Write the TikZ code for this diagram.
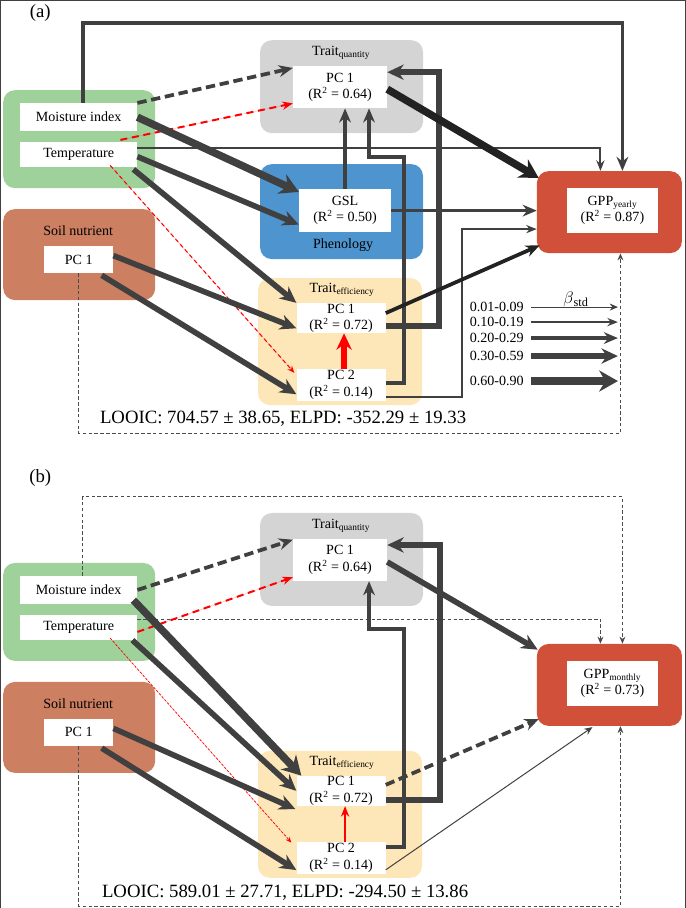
\documentclass[tikz,border=0pt]{standalone}
\usepackage{fontspec}
\setmainfont{Liberation Serif}
\usepackage{tikz}
\usetikzlibrary{arrows.meta,calc}

\definecolor{climgreen}{HTML}{9FD29B}
\definecolor{soilbrown}{HTML}{CD7F62}
\definecolor{qgray}{HTML}{D4D4D4}
\definecolor{phblue}{HTML}{4E95D0}
\definecolor{effyellow}{HTML}{FDE6B8}
\definecolor{gppred}{HTML}{D0503A}
\definecolor{darkline}{HTML}{404040}
\definecolor{blackline}{HTML}{222222}

\begin{document}
\begin{tikzpicture}[
        x=0.03cm, y=-0.03cm,
        every node/.style={font=\fontsize{12}{14}\selectfont, inner sep=0pt},
        sz/.style 2 args={minimum width=#1*0.03cm, minimum height=#2*0.03cm},
        grp/.style={rounded corners=10pt},
        wbox/.style={fill=white, align=center},
        big/.style={font=\fontsize{16}{18}\selectfont},
        every path/.style={draw=darkline},
        w1/.style={line width=0.85pt, -{Stealth[length=7pt, width=6pt]}},
        w2/.style={line width=1.7pt, -{Stealth[length=9pt, width=7pt]}},
        w3/.style={line width=3.2pt, -{Stealth[length=12pt, width=10pt]}},
        w4/.style={line width=4.8pt, -{Stealth[length=14pt, width=13pt]}},
        w5/.style={line width=6.4pt, -{Stealth[length=16pt, width=18pt]}},
        thickdash/.style={dash pattern=on 8pt off 4pt},
        reddash/.style={draw=red, fill=red, dash pattern=on 6pt off 4pt},
        redthin/.style={draw=red, fill=red, line width=0.9pt, dash pattern=on 3.5pt off 2.5pt},
        loopd/.style={line width=0.7pt, draw=black!70, dash pattern=on 3pt off 2pt,
            -{Stealth[length=6pt, width=5pt]}},
    ]
    \useasboundingbox (0,0) rectangle (685,908);

    %% (a) yearly
    \node[big] (labA) at (40,13) {(a)};

    \node[grp, fill=climgreen, sz={152}{98}] (climA) at (79,139) {};
    \node[grp, fill=soilbrown, sz={152}{91}] (soilA) at (79,254.5) {};
    \node[grp, fill=qgray, sz={163}{93}] (tqA) at (341.5,86.5) {};
    \node[grp, fill=phblue, sz={163}{95}] (phA) at (341.5,211.5) {};
    \node[grp, fill=effyellow, sz={164}{127}] (teA) at (340,341.5) {};
    \node[grp, fill=gppred, sz={145}{82}] (gppA) at (609.5,212) {};

    \node (soilT) at (78,231) {Soil nutrient};
    \node (tqT) at (341,53) {Trait\textsubscript{quantity}};
    \node (phT) at (343,245) {Phenology};
    \node (teT) at (342,290) {Trait\textsubscript{efficiency}};

    \node[wbox, sz={117}{28}] (mi) at (78.5,117) {Moisture index};
    \node[wbox, sz={117}{25}] (tp) at (78.5,154.5) {Temperature};
    \node[wbox, sz={69}{27}] (sp) at (78.5,259.5) {PC 1};
    \node[wbox, sz={94}{42}] (tq) at (340,87) {PC 1\\(R\textsuperscript{2} = 0.64)};
    \node[wbox, sz={92}{43}] (gsl) at (345,210.5) {GSL\\(R\textsuperscript{2} = 0.50)};
    \node[wbox, sz={89}{30}] (e1) at (341,318) {PC 1\\(R\textsuperscript{2} = 0.72)};
    \node[wbox, sz={89}{32}] (e2) at (341,385) {PC 2\\(R\textsuperscript{2} = 0.14)};
    \node[wbox, sz={91}{45}] (gpp) at (612.5,210.5) {GPP\textsubscript{yearly}\\(R\textsuperscript{2} = 0.87)};

    \draw[w3] ($(mi.north)+(4,0)$) -- ++(0,-80) -| ($(gppA.north)+(13,0)$);
    \draw[w2] ($(tp.east)+(0,-7)$) -| ($(gppA.north)+(-9,0)$);
    \draw[w3, thickdash] (mi.north east) -- ($(tq.north west)+(0,2)$);
    \draw[w2, reddash] ($(tp.north east)+(-17,-2)$) -- ($(tq.south west)+(0,-5)$);
    \draw[w5] (mi.east) -- ($(gsl.north west)+(0,3)$);
    \draw[w4] ($(tp.east)+(0,2)$) -- ($(gsl.west)+(0,14)$);
    \draw[w4] ($(tp.south east)+(-4,2)$) -- (e1.north west);
    \draw[redthin, -{Stealth[length=6pt, width=5pt]}] ($(tp.south)+(31.5,-2)$) -- ($(e2.north west)+(-2,4)$);
    \draw[w3] (gsl.north) -- (gsl.north |- tq.south);
    \draw[w3] ($(e2.east)+(0,-2)$) -- ++(18,0) -- ++(0,-226) -| ($(tq.south)+(29,0)$);
    \draw[w4] ($(e1.east)+(0,8)$) -- ++(53,0) |- ($(tq.east)+(0,-15)$);
    \draw[w5, draw=blackline, fill=blackline] ($(tq.east)+(0,2)$) -- ($(gppA.north west)+(2,7)$);
    \draw[w3] (gsl.east) -- (gsl.east -| gppA.west);
    \draw[w2] ($(e2.east)+(0,12)$) -- ++(76,0) |- ($(gppA.west)+(0,17)$);
    \draw[w3, draw=blackline, fill=blackline] ($(e1.east)+(0,-5)$) -- ($(gppA.south west)+(3,-8)$);
    \draw[w4, draw=red, fill=red] ($(e2.north)+(3,0)$) -- ($(e1.south)+(3,0)$);
    \draw[w4] ($(sp.east)+(0,-4)$) -- ($(e1.south west)+(0,-5)$);
    \draw[w4] ($(sp.south)+(23,2)$) -- ($(e2.south west)+(0,-7)$);
    \draw[loopd] (sp.south) -- ++(0,160) -| ($(gppA.south)+(11,0)$);

    \node[big] (fitA) at (283,419) {LOOIC: 704.57 ± 38.65, ELPD: -352.29 ± 19.33};

    % legend
    \node[anchor=east] (l1) at (524,307) {0.01-0.09};
    \node[anchor=east] (l2) at (524,322) {0.10-0.19};
    \node[anchor=east] (l3) at (524,338) {0.20-0.29};
    \node[anchor=east] (l4) at (524,356) {0.30-0.59};
    \node[anchor=east] (l5) at (524,381) {0.60-0.90};
    \coordinate (r1) at (618,307);
    \coordinate (r2) at (618,322);
    \coordinate (r3) at (618,338);
    \coordinate (r4) at (618,356);
    \coordinate (r5) at (618,381);
    \draw[w1, shorten <=6pt] (l1.east) -- (r1);
    \draw[w2, shorten <=6pt] (l2.east) -- (r2);
    \draw[w3, shorten <=6pt] (l3.east) -- (r3);
    \draw[w4, shorten <=6pt] (l4.east) -- (r4);
    \draw[w5, shorten <=6pt] (l5.east) -- (r5);
    \node[font=\fontsize{15}{16}\selectfont] (beta) at (576,299) {$\beta$\textsubscript{std}};

    %% (b) monthly
    \node[big] (labB) at (40,478) {(b)};
    \begin{scope}[yshift=-14.19cm]
    \node[grp, fill=climgreen, sz={152}{98}] (climB) at (79,139) {};
    \node[grp, fill=soilbrown, sz={152}{91}] (soilB) at (79,254.5) {};
    \node[grp, fill=qgray, sz={163}{93}] (tqB) at (341.5,86.5) {};
    \node[grp, fill=effyellow, sz={164}{127}] (teB) at (340,341.5) {};
    \node[grp, fill=gppred, sz={145}{82}] (gppB) at (609.5,212) {};

    \node (soilTb) at (78,231) {Soil nutrient};
    \node (tqTb) at (341,53) {Trait\textsubscript{quantity}};
    \node (teTb) at (342,290) {Trait\textsubscript{efficiency}};

    \node[wbox, sz={117}{28}] (mib) at (78.5,117) {Moisture index};
    \node[wbox, sz={117}{25}] (tpb) at (78.5,154.5) {Temperature};
    \node[wbox, sz={69}{27}] (spb) at (78.5,259.5) {PC 1};
    \node[wbox, sz={94}{42}] (tqb) at (340,87) {PC 1\\(R\textsuperscript{2} = 0.64)};
    \node[wbox, sz={89}{30}] (e1b) at (341,318) {PC 1\\(R\textsuperscript{2} = 0.72)};
    \node[wbox, sz={89}{32}] (e2b) at (341,385) {PC 2\\(R\textsuperscript{2} = 0.14)};
    \node[wbox, sz={91}{45}] (gppb) at (612.5,210.5) {GPP\textsubscript{monthly}\\(R\textsuperscript{2} = 0.73)};

    \draw[loopd] ($(mib.north)+(4,0)$) -- ++(0,-79) -| ($(gppB.north)+(13,0)$);
    \draw[loopd] ($(tpb.east)+(0,-8.5)$) -| ($(gppB.north)+(-9,0)$);
    \draw[w3, thickdash] (mib.east) -- ($(tqb.north west)+(0,1)$);
    \draw[w2, reddash] ($(tpb.east)+(0,4.5)$) -- ($(tqb.south west)+(0,-4)$);
    \draw[w5] ($(mib.south east)+(-4,-4)$) -- ($(e1b.north west)+(5,0)$);
    \draw[w4] ($(tpb.south east)+(-5,0)$) -- (e1b.west);
    \draw[redthin, line width=0.6pt, dash pattern=on 2pt off 1.5pt, -{Stealth[length=5pt, width=4pt]}]
        ($(tpb.south)+(31.5,-2)$) -- ($(e2b.north west)+(-5,1)$);
    \draw[w4] ($(tqb.east)+(0,2)$) -- ($(gppB.north west)+(1,6)$);
    \draw[w3] ($(e2b.east)+(0,-11)$) -- ++(18,0) -- ++(0,-218) -| ($(tqb.south)+(29,0)$);
    \draw[w4] ($(e1b.east)+(0,9)$) -- ++(54,0) |- ($(tqb.east)+(0,-15)$);
    \draw[w3, thickdash] ($(e1b.east)+(0,-6)$) -- ($(gppB.south west)+(2,-7)$);
    \draw[w1] ($(e2b.east)+(0,12)$) -- ($(gppB.south)+(-17,1)$);
    \draw[w2, draw=red, fill=red] ($(e2b.north)+(4,0)$) -- ($(e1b.south)+(4,0)$);
    \draw[w4] ($(spb.east)+(0,-4)$) -- ($(e1b.south west)+(-1,3)$);
    \draw[w4] ($(spb.south)+(23,2)$) -- ($(e2b.south west)+(0,-4)$);
    \draw[loopd] (spb.south) -- ++(0,160) -| ($(gppB.south)+(11,0)$);

    \node[big] (fitB) at (285,420) {LOOIC: 589.01 ± 27.71, ELPD: -294.50 ± 13.86};
    \end{scope}
\end{tikzpicture}
\end{document}
